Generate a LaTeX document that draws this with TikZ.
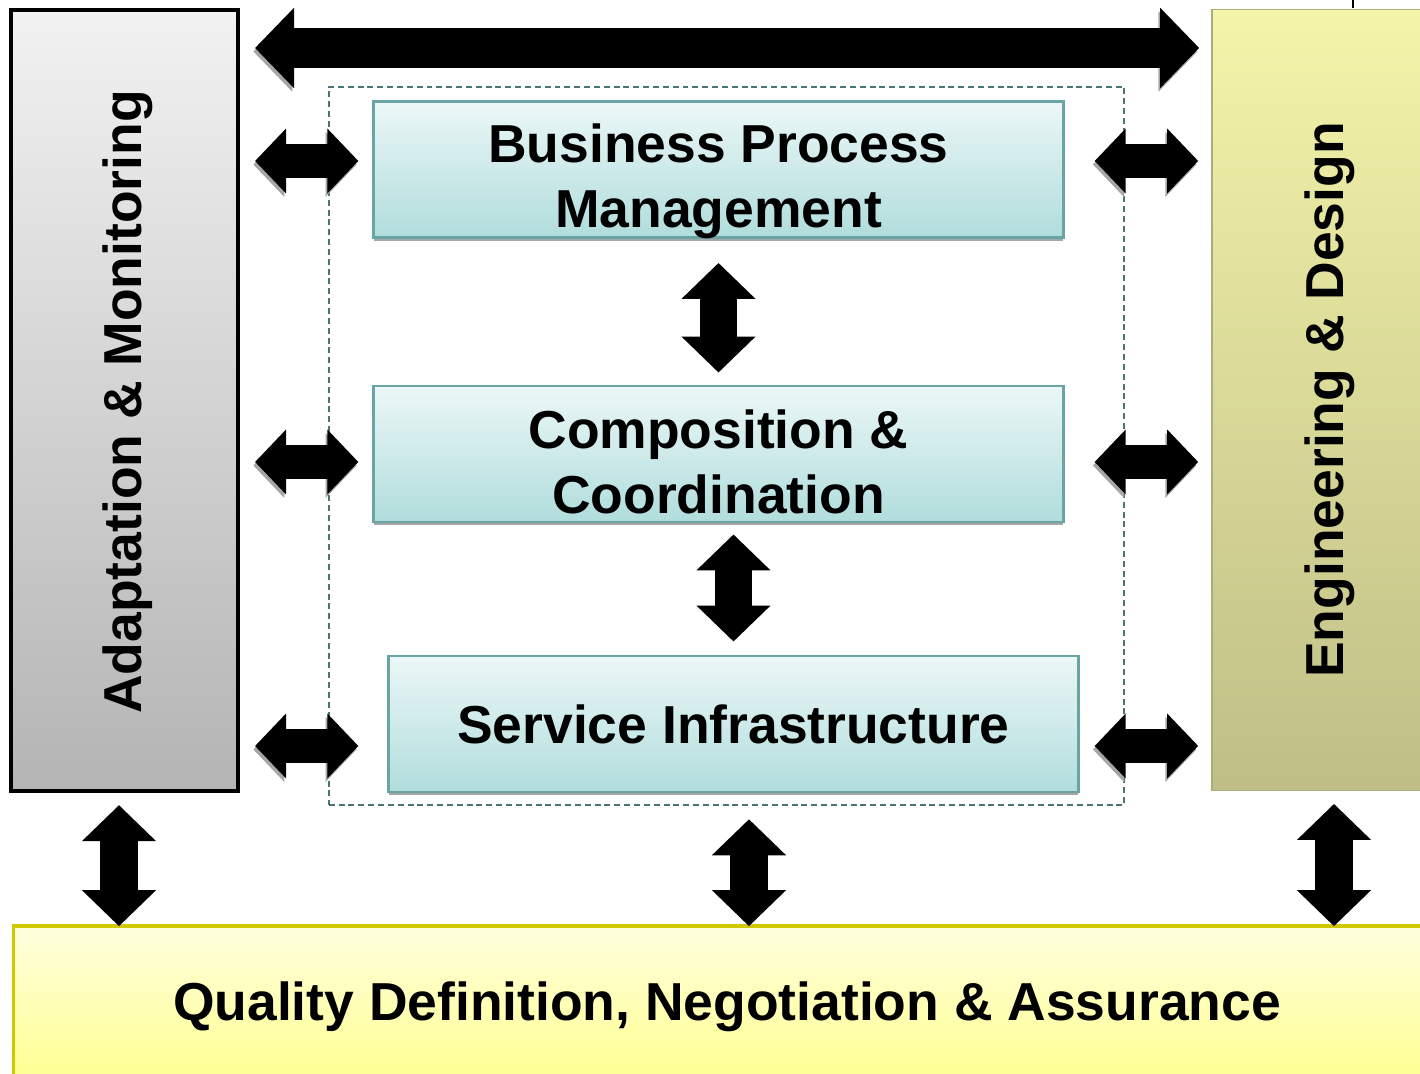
\documentclass[tikz,border=0pt]{standalone}
\usepackage{fontspec}
\setmainfont{Liberation Sans}
\usetikzlibrary{arrows.meta}
\definecolor{graytop}{HTML}{F2F2F2}
\definecolor{graybot}{HTML}{B4B4B4}
\definecolor{tealline}{HTML}{6AA5A5}
\definecolor{tealtop}{HTML}{ECF7F7}
\definecolor{tealbot}{HTML}{B0DDDC}
\definecolor{engtop}{HTML}{F4F4AA}
\definecolor{engbot}{HTML}{BFBE86}
\definecolor{qualtop}{HTML}{FFFFDE}
\definecolor{qualbot}{HTML}{FFFF8C}
\definecolor{qualline}{HTML}{D2C800}
\definecolor{frameline}{HTML}{4B7575}
\tikzset{
  layer/.style={draw=tealline,line width=0.8pt,top color=tealtop,bottom color=tealbot,
    minimum width=6.89cm,minimum height=1.36cm,inner sep=0pt,
    preaction={fill=gray!70,transform canvas={yshift=-0.9pt}}},
  lbl/.style={inner sep=0pt,align=center},
  bigarrow/.style={line width=0.4cm,{Triangle[length=0.39cm,width=0.78cm]}-{Triangle[length=0.39cm,width=0.78cm]}},
  sidearrow/.style={line width=0.34cm,{Triangle[length=0.31cm,width=0.63cm]}-{Triangle[length=0.31cm,width=0.63cm]}},
  updown/.style={line width=0.37cm,{Triangle[length=0.36cm,width=0.72cm]}-{Triangle[length=0.36cm,width=0.72cm]}},
  shade/.style={preaction={draw=gray!70,transform canvas={xshift=-0.5pt,yshift=-1pt}}}
}
\begin{document}
\begin{tikzpicture}[x=0.01cm,y=-0.01cm,font=\fontsize{15.2}{18.6}\selectfont\bfseries]
  \useasboundingbox (0,0) rectangle (1420,1074);
  \path
  (0,48) coordinate (topy)
  (0,161) coordinate (r1)
  (0,462) coordinate (r2)
  (0,746) coordinate (r3)
  (119,0) coordinate (c1)
  (749,0) coordinate (c2)
  (1334,0) coordinate (c3)
  ;
  % side blocks
  \node[draw=black,line width=1.1pt,top color=graytop,bottom color=graybot,
    minimum width=2.27cm,minimum height=7.81cm] (amon) at (124.5,400.5) {};
  \node[lbl,rotate=90] (amontxt) at (128,402) {Adaptation \& Monitoring};
  \node[draw=engbot!90!black,line width=0.4pt,top color=engtop,bottom color=engbot,
    minimum width=2.28cm,minimum height=7.8cm] (eng) at (1326,400) {};
  \node[lbl,rotate=90] (engtxt) at (1330,400) {Engineering \& Design};
  \node[draw=qualline,line width=1pt,top color=qualtop,bottom color=qualbot,
    minimum width=14.26cm,minimum height=1.64cm] (qual) at (727,1008) {};
  \node[lbl] (qualtxt) at (727,1007) {Quality Definition, Negotiation \& Assurance};
  % layers
  \node[draw=frameline,dash pattern=on 1.7pt off 1.1pt,line width=0.6pt,
    minimum width=7.95cm,minimum height=7.18cm] (frame) at (726.5,446) {};
  \node[layer] (bpm) at (718.5,169.5) {};
  \node[lbl] (bpmtxt) at ([yshift=-0.12cm]bpm.center) {Business Process\\Management};
  \node[layer] (cc) at (718.5,454) {};
  \node[lbl] (cctxt) at ([yshift=-0.08cm]cc.center) {Composition \&\\Coordination};
  \node[layer] (si) at (733.5,724) {};
  \node[lbl] (sitxt) at (si.center) {Service Infrastructure};
  % arrows
  \draw[bigarrow,shade,shorten <=0.15cm,shorten >=0.12cm] (amon.east |- topy) -- (eng.west |- topy);
  \foreach \r in {r1,r2,r3}{
    \draw[sidearrow,shade,shorten <=0.15cm,shorten >=0.14cm] (amon.east |- \r) -- (bpm.west |- \r);
    \draw[sidearrow,shade,shorten <=0.30cm,shorten >=0.13cm] (bpm.east |- \r) -- (eng.west |- \r);
  }
  \draw[updown,shorten <=0.24cm,shorten >=0.12cm] (bpm.south) -- (cc.north);
  \draw[updown,shorten <=0.11cm,shorten >=0.13cm] (si.north |- cc.south) -- (si.north);
  \draw[updown,shorten <=0.12cm,shorten >=-0.02cm] (c1 |- amon.south) -- (c1 |- qual.north);
  \draw[updown,shorten <=0.13cm,shorten >=-0.02cm] (c2 |- frame.south) -- (c2 |- qual.north);
  \draw[updown,shorten <=0.13cm,shorten >=-0.02cm] (c3 |- eng.south) -- (c3 |- qual.north);
  \draw[line width=0.8pt] (1353,0) -- (1353,8);
\end{tikzpicture}
\end{document}
